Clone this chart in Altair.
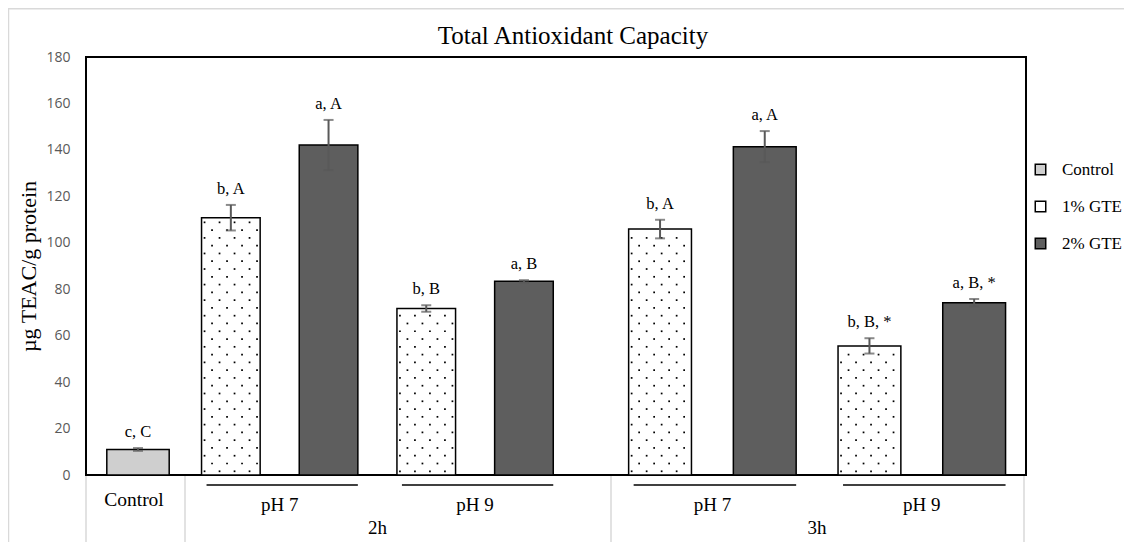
import altair as alt
import pandas as pd

# ---------------- data ----------------
groups = ["Control", "2h", "2h", "2h", "2h", "3h", "3h", "3h", "3h"]
ph_levels = ["", "pH 7", "pH 7", "pH 9", "pH 9", "pH 7", "pH 7", "pH 9", "pH 9"]
series = ["Control", "1% GTE", "2% GTE", "1% GTE", "2% GTE", "1% GTE", "2% GTE", "1% GTE", "2% GTE"]
values = [11.0, 110.8, 142.1, 71.7, 83.4, 105.9, 141.4, 55.6, 74.2]
errors = [0.6, 5.5, 10.8, 1.4, 0.5, 4.0, 6.7, 3.3, 1.6]
letters = ["c, C", "b, A", "a, A", "b, B", "a, B", "b, A", "a, A", "b, B, *", "a, B, *"]
series_order = ["Control", "1% GTE", "2% GTE"]
series_colors = ["#cfcfcf", "#ffffff", "#5e5e5e"]
y_ticks = [0, 20, 40, 60, 80, 100, 120, 140, 160, 180]

# ---------------- layout (not data) ----------------
W, H = 940, 418
X_MAX = 9.4
GROUP_LAYOUT = {"Control": (0.0, 1.04), "2h": (0.96, 0.977), "3h": (5.217, 1.047)}
SEPARATORS = [0.0, 0.99, 5.25, 9.38]
SERIF = "Liberation Serif"

rows = []
slot_counter = {}
for g, p, s, v, e, l in zip(groups, ph_levels, series, values, errors, letters):
    k = slot_counter.get(g, 0)
    slot_counter[g] = k + 1
    origin, step = GROUP_LAYOUT[g]
    pos = origin + (k + 0.5) * step
    w = 0.6 * step
    rows.append(dict(group=g, ph=p, series=s, value=v, err=e, label=l,
                     pos=pos, w=w, left=pos - w / 2, right=pos + w / 2,
                     lo=v - e, hi=v + e))
df = pd.DataFrame(rows)
sep_df = pd.DataFrame({"sep": SEPARATORS})
one = pd.DataFrame({"t": ["Total Antioxidant Capacity"]})

xs = alt.Scale(domain=[0, X_MAX], nice=False, zero=False)
ys = alt.Scale(domain=[0, 180], nice=False)

yaxis = alt.Axis(values=y_ticks, labelFont="Open Sans", labelFontSize=14,
                 labelColor="#595959", labelPadding=16, ticks=False, domain=False,
                 grid=False, title="µg TEAC/g protein", titleFont=SERIF,
                 titleFontSize=22, titleFontWeight="normal", titleColor="black",
                 titleX=-58, titleY=H / 2, titleAngle=270, titleAlign="center",
                 titleBaseline="middle")

bars = alt.Chart(df).mark_bar(stroke="black", strokeWidth=1.5).encode(
    x=alt.X("left:Q", scale=xs, axis=None),
    x2="right:Q",
    y=alt.Y("value:Q", scale=ys, axis=yaxis),
    y2=alt.datum(0),
    color=alt.Color("series:N",
                    scale=alt.Scale(domain=series_order, range=series_colors),
                    legend=alt.Legend(title=None, orient="none", legendX=946, legendY=104,
                                      symbolType="square", symbolSize=110,
                                      symbolStrokeColor="black", symbolStrokeWidth=1.5,
                                      labelFont=SERIF, labelFontSize=17, labelColor="black",
                                      labelOffset=13, rowPadding=19, padding=0)),
)

dots = alt.Chart(df).transform_filter(
    "datum.series == '1% GTE'"
).transform_calculate(
    rows="sequence(1.6, datum.value - 1.0, 3.35)"
).transform_flatten(["rows"], as_=["row"]).transform_calculate(
    parity="floor((datum.row - 1.6) / 3.35 + 0.5) % 2"
).transform_calculate(
    cols="datum.parity == 0 ? sequence(0.03, datum.w - 0.02, 0.15) : sequence(0.105, datum.w - 0.02, 0.15)"
).transform_flatten(["cols"], as_=["col"]).transform_calculate(
    dx="datum.left + datum.col"
).mark_square(size=3, color="black", opacity=1).encode(
    x=alt.X("dx:Q", scale=xs, axis=None),
    y=alt.Y("row:Q", scale=ys),
)

err_rule = alt.Chart(df).mark_rule(color="#595959", strokeWidth=2).encode(
    x=alt.X("pos:Q", scale=xs, axis=None),
    y=alt.Y("lo:Q", scale=ys),
    y2="hi:Q",
)
cap_hi = alt.Chart(df).mark_tick(orient="horizontal", size=10, thickness=2, color="#595959").encode(
    x=alt.X("pos:Q", scale=xs, axis=None),
    y=alt.Y("hi:Q", scale=ys),
)
cap_lo = alt.Chart(df).mark_tick(orient="horizontal", size=10, thickness=2, color="#595959").encode(
    x=alt.X("pos:Q", scale=xs, axis=None),
    y=alt.Y("lo:Q", scale=ys),
)

labels = alt.Chart(df).mark_text(font=SERIF, fontSize=16.5, color="black", dy=-16,
                                 baseline="middle").encode(
    x=alt.X("pos:Q", scale=xs, axis=None),
    y=alt.Y("hi:Q", scale=ys),
    text="label:N",
)

ph_base = alt.Chart(df).transform_filter("datum.ph != ''").transform_aggregate(
    x1="min(left)", x2="max(right)", mid="mean(pos)", groupby=["group", "ph"]
)
underline = ph_base.transform_calculate(xa="datum.x1 + 0.05").mark_rule(
    color="black", strokeWidth=1.5).encode(
    x=alt.X("xa:Q", scale=xs, axis=None), x2="x2:Q", y=alt.value(H + 10),
)
ph_text = ph_base.mark_text(font=SERIF, fontSize=19, color="black", baseline="middle").encode(
    x=alt.X("mid:Q", scale=xs, axis=None), y=alt.value(H + 30), text="ph:N",
)
time_text = alt.Chart(df).transform_filter("datum.group != 'Control'").transform_aggregate(
    mid="mean(pos)", groupby=["group"]
).mark_text(font=SERIF, fontSize=19, color="black", baseline="middle").encode(
    x=alt.X("mid:Q", scale=xs, axis=None), y=alt.value(H + 53), text="group:N",
)
control_text = alt.Chart(df).transform_filter("datum.group == 'Control'").mark_text(
    font=SERIF, fontSize=19.5, color="black", baseline="middle", dx=-4).encode(
    x=alt.X("pos:Q", scale=xs, axis=None), y=alt.value(H + 25), text="group:N",
)

seps = alt.Chart(sep_df).mark_rule(color="#d9d9d9", strokeWidth=1.5).encode(
    x=alt.X("sep:Q", scale=xs, axis=None), y=alt.value(H + 1), y2=alt.value(H + 67),
)
border_left = alt.Chart(one).mark_rule(color="#d9d9d9", strokeWidth=1.5).encode(
    x=alt.value(-77.5), y=alt.value(-48), y2=alt.value(H + 67),
)
border_top = alt.Chart(one).mark_rule(color="#d9d9d9", strokeWidth=1.5).encode(
    x=alt.value(-78), x2=alt.value(W + 98), y=alt.value(-48.2),
)
title = alt.Chart(one).mark_text(font=SERIF, fontSize=25, color="black", baseline="middle").encode(
    x=alt.value(487), y=alt.value(-21), text="t:N",
)

chart = alt.layer(
    border_left, border_top, seps, bars, dots, err_rule, cap_hi, cap_lo, labels,
    underline, ph_text, time_text, control_text, title,
).properties(
    width=W, height=H,
    padding={"left": 78, "top": 49, "right": 98, "bottom": 67},
    autosize=alt.AutoSizeParams(type="none"),
    background="white",
).configure_view(stroke="black", strokeWidth=2)

chart.save("out.html", embed_options={"renderer": "svg", "actions": False})
